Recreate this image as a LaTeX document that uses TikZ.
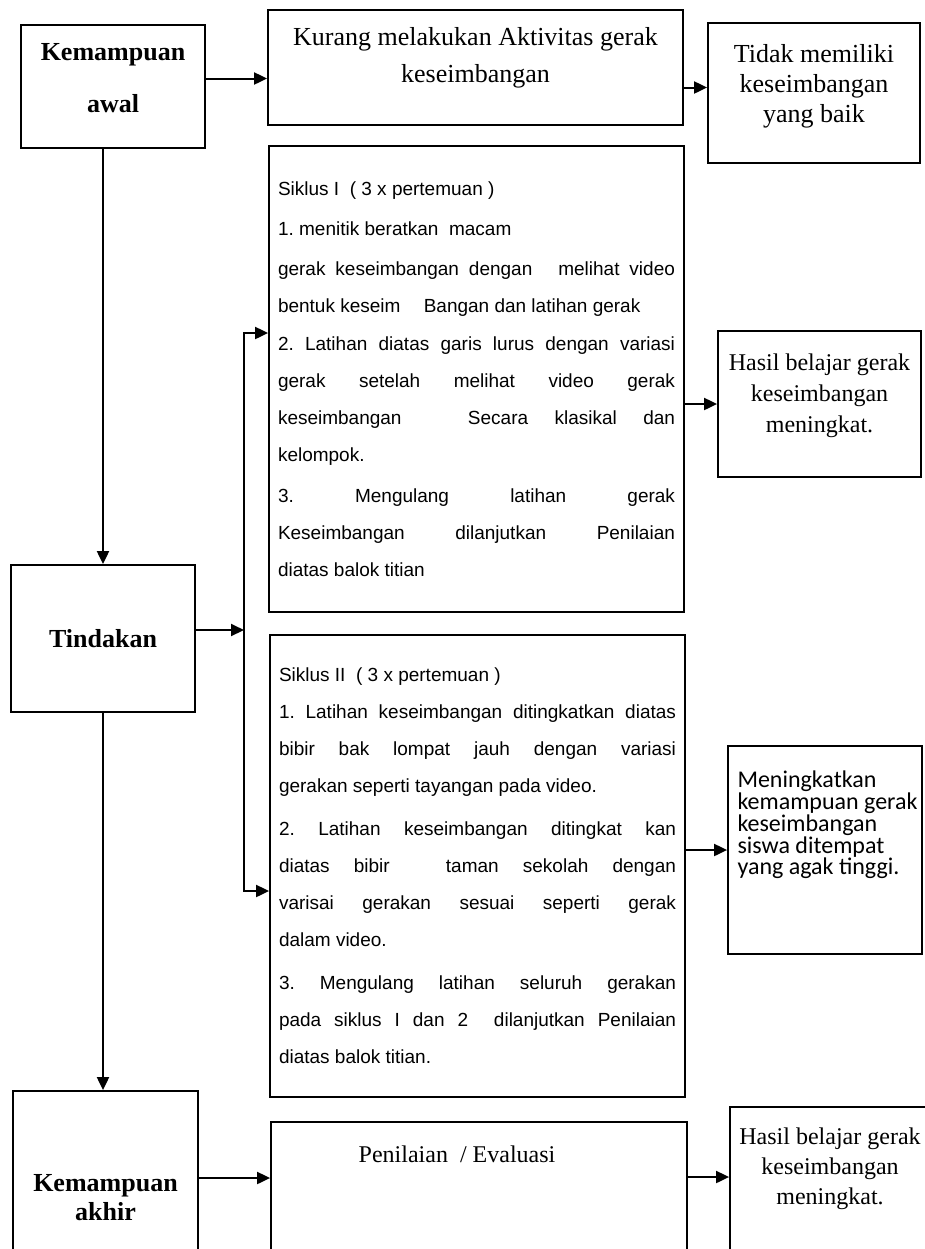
\documentclass[tikz,border=0pt]{standalone}
\usepackage{fontspec}
\usepackage{tikz}
\setmainfont{Liberation Serif}
\newfontfamily\arialfont{Liberation Sans}
\newfontfamily\calibrifont{Carlito}
\usetikzlibrary{arrows.meta}
\frenchspacing

\begin{document}
\begin{tikzpicture}[x=0.5pt, y=-0.5pt,
    box/.style={draw, rectangle, line width=0.9pt, inner sep=0pt},
    headtext/.style={font=\bfseries\fontsize{13}{26}\selectfont, align=center},
    seriftext/.style={font=\fontsize{13}{18.5}\selectfont, align=center},
    resulttext/.style={font=\fontsize{12}{15.5}\selectfont, align=center},
    cycletext/.style={font=\arialfont\fontsize{9.5}{18.5}\selectfont, text width=198.5pt, align=justify},
    arr/.style={-{Triangle[length=6.5pt,width=6pt]}, line width=1pt}]

    \path[use as bounding box, clip] (0,0) rectangle (925,1249);

    % Kemampuan awal
    \node[box, minimum width=92pt, minimum height=61.5pt] (awal) at (113,86.5) {};
    \node[headtext] (awaltext) at ([yshift=4pt]awal.center) {Kemampuan\\awal};

    % Kurang melakukan aktivitas
    \node[box, minimum width=207.5pt, minimum height=57.5pt] (kurang) at (475.5,67.5) {};
    \node[seriftext] (kurangtext) at ([yshift=5pt]kurang.center) {Kurang melakukan Aktivitas gerak\\keseimbangan};

    % Tidak memiliki keseimbangan
    \node[box, minimum width=106pt, minimum height=70pt] (tidak) at (814,93) {};
    \node[seriftext, font=\fontsize{13}{15}\selectfont] (tidaktext) at ([yshift=3.5pt]tidak.center) {Tidak memiliki\\keseimbangan\\yang baik};

    % Siklus I
    \node[box, cycletext, inner xsep=4.5pt, minimum width=207.5pt, minimum height=233pt] (siklus1) at (476.5,379) {Siklus I\ \ ( 3 x pertemuan )\\[1.5pt]
    1. menitik beratkan\ \ macam\\[1.5pt]
    gerak keseimbangan dengan\hspace{8pt} melihat video\linebreak
    bentuk keseim\hspace{9pt} Bangan dan latihan gerak\\[0.5pt]
    2. Latihan diatas garis lurus dengan variasi\linebreak
    gerak setelah melihat video gerak\linebreak
    keseimbangan\hspace{20pt} Secara klasikal dan\linebreak
    kelompok.\\[2pt]
    3. Mengulang latihan gerak\linebreak
    Keseimbangan dilanjutkan Penilaian\linebreak
    diatas balok titian};

    % Hasil Siklus I
    \node[box, minimum width=101.5pt, minimum height=73pt] (hasil1) at (819.5,404) {};
    \node[resulttext] (hasil1text) at ([yshift=4pt]hasil1.center) {Hasil belajar gerak\\keseimbangan\\meningkat.};

    % Tindakan
    \node[box, headtext, minimum width=92pt, minimum height=73.5pt] (tindakan) at (103,638.5) {Tindakan};

    % Siklus II
    \node[box, cycletext, inner xsep=4.5pt, minimum width=207.5pt, minimum height=231pt] (siklus2) at (477.5,866) {Siklus II\ \ ( 3 x pertemuan )\\
    1. Latihan keseimbangan ditingkatkan diatas\linebreak
    bibir bak lompat jauh dengan variasi\linebreak
    gerakan seperti tayangan pada video.\\[3pt]
    2. Latihan keseimbangan ditingkat kan\linebreak
    diatas bibir\hspace{16pt} taman sekolah dengan\linebreak
    varisai gerakan sesuai seperti gerak\linebreak
    dalam video.\\[3pt]
    3. Mengulang latihan seluruh gerakan\linebreak
    pada siklus I dan 2\ \ dilanjutkan Penilaian\linebreak
    diatas balok titian.};

    % Hasil Siklus II
    \node[box, minimum width=97pt, minimum height=104pt] (meningkat) at (825,850) {};
    \node[font=\calibrifont\fontsize{12}{10.9}\selectfont, align=left, anchor=west, inner sep=0pt] (meningkattext) at ([xshift=5pt, yshift=12.5pt]meningkat.west) {Meningkatkan\\kemampuan gerak\\keseimbangan\\siswa ditempat\\yang agak tinggi.};

    % Kemampuan akhir
    \node[box, headtext, font=\bfseries\fontsize{13}{14.5}\selectfont, minimum width=92.5pt, minimum height=106.5pt] (akhir) at (105.5,1197.5) {Kemampuan\\akhir};

    % Penilaian / Evaluasi
    \node[box, minimum width=208pt, minimum height=84pt] (eval) at (479,1206) {};
    \node[resulttext] (evaltext) at ([xshift=-11pt, yshift=-16.5pt]eval.north) {Penilaian\ \ / Evaluasi};

    % Hasil akhir
    \node[box, minimum width=100pt, minimum height=91.5pt] (hasil2) at (830,1198.5) {};
    \node[resulttext, font=\fontsize{12}{15}\selectfont] (hasil2text) at ([yshift=-31.5pt]hasil2.north) {Hasil belajar gerak\\keseimbangan\\meningkat.};

    % Arrows
    \coordinate (bus) at (244,630);
    \draw[arr] ([yshift=4pt]awal.east) -- ([yshift=4pt]awal.east -| kurang.west);
    \draw[arr] ([yshift=-10pt]kurang.east) -- ([yshift=-10pt]kurang.east -| tidak.west);
    \draw[arr] (tindakan.north |- awal.south) -- (tindakan.north);
    \draw[arr] (tindakan.east |- bus) -- (bus);
    \draw[arr] (bus) |- ([yshift=23pt]siklus1.west);
    \draw[arr] (bus) |- ([yshift=-12.5pt]siklus2.west);
    \draw[arr] (siklus1.east |- hasil1.west) -- (hasil1.west);
    \draw[arr] (siklus2.east |- meningkat.west) -- (meningkat.west);
    \draw[arr] (tindakan.south) -- (tindakan.south |- akhir.north);
    \draw[arr] ([yshift=9.75pt]akhir.east) -- ([yshift=9.75pt]akhir.east -| eval.west);
    \draw[arr] ([yshift=14.5pt]eval.east) -- ([yshift=14.5pt]eval.east -| hasil2.west);
\end{tikzpicture}
\end{document}
